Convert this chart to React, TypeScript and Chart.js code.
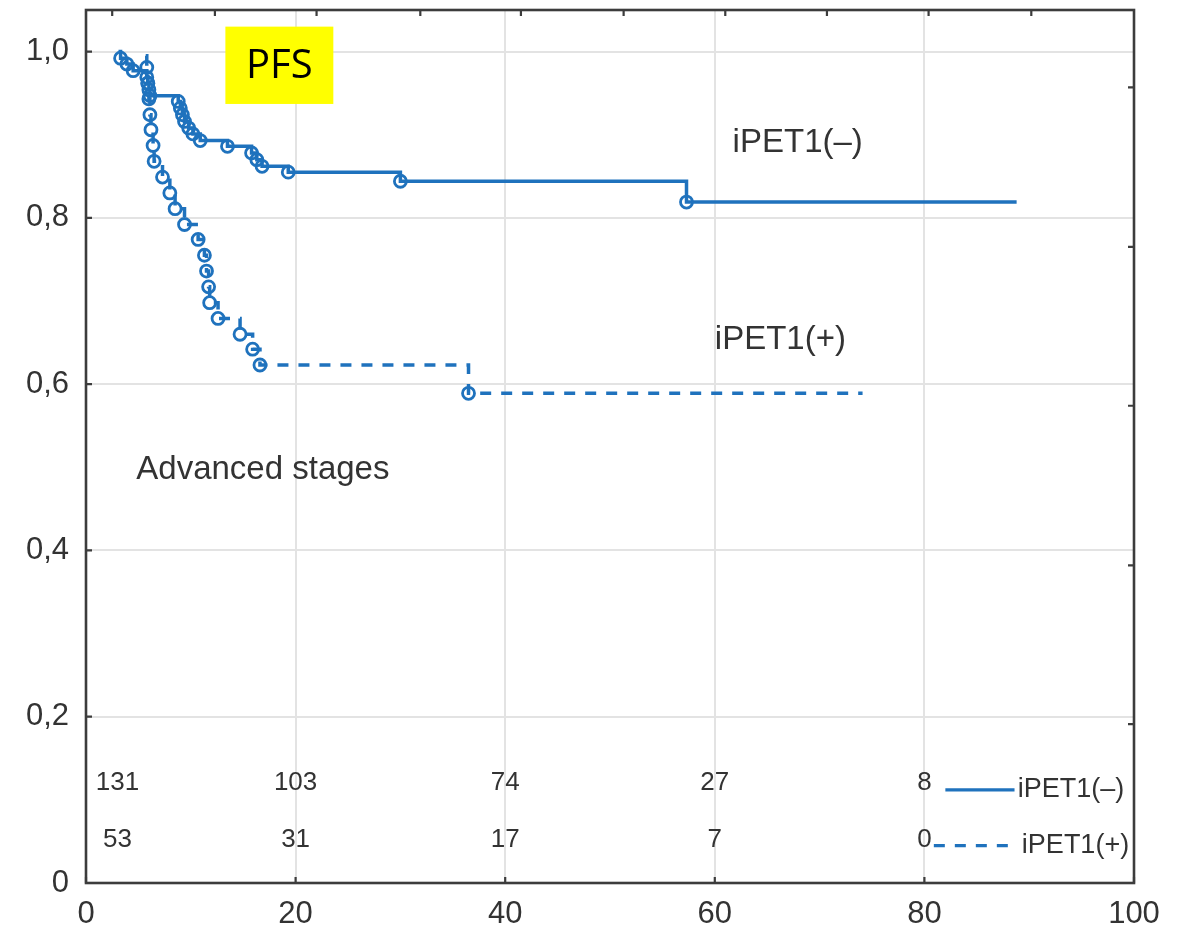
import React, { useEffect, useRef } from 'react';
import { Chart, registerables } from 'chart.js';

Chart.register(...registerables);

// ---- Data ----
const negTimes = [3.1, 3.3, 3.9, 4.5, 5.8, 5.9, 6.0, 6.1, 8.8, 9.0, 9.2, 9.4, 9.8, 10.2, 10.9, 13.5, 15.8, 16.3, 16.8, 19.3, 30.0, 57.3, 88.8];
const negSurv = [1.0, 0.992, 0.985, 0.977, 0.969, 0.962, 0.954, 0.947, 0.94, 0.932, 0.924, 0.916, 0.908, 0.901, 0.893, 0.886, 0.878, 0.87, 0.862, 0.855, 0.844, 0.819, 0.819];

const posTimes = [5.7, 5.8, 5.9, 6.0, 6.1, 6.2, 6.4, 6.5, 7.3, 8.0, 8.5, 9.4, 10.7, 11.3, 11.5, 11.7, 11.8, 12.6, 14.7, 15.9, 16.6, 36.5, 74.1];
const posSurv = [0.995, 0.981, 0.962, 0.943, 0.924, 0.906, 0.887, 0.868, 0.849, 0.83, 0.811, 0.792, 0.774, 0.755, 0.736, 0.717, 0.698, 0.679, 0.66, 0.642, 0.623, 0.589, 0.589];

const riskTimes = [3, 20, 40, 60, 80];
const riskNeg = [131, 103, 74, 27, 8];
const riskPos = [53, 31, 17, 7, 0];

const xTicks = [0, 20, 40, 60, 80, 100];
const yTicks = [0, 0.2, 0.4, 0.6, 0.8, 1.0];
const yTickLabels = ['0', '0,2', '0,4', '0,6', '0,8', '1,0'];
const topTicks = [2.5, 12.3, 22.0, 31.9, 41.5, 51.3, 61.0, 70.7, 80.4, 90.2];
const rightTicks = [0.191, 0.382, 0.574, 0.765, 0.957];

const BLUE = '#1f72bd';
const TEXT = '#333333';
const FONT = "'Liberation Sans', Arial, sans-serif";

const overlayPlugin = {
  id: 'overlay',
  afterDraw(chart: any) {
    const { ctx, chartArea: ca, scales } = chart;
    const x = scales.x;
    const y = scales.y;
    ctx.save();
    // frame
    ctx.strokeStyle = '#3c3c3c';
    ctx.lineWidth = 2.6;
    ctx.strokeRect(ca.left, ca.top, ca.right - ca.left, ca.bottom - ca.top);
    // inward ticks
    ctx.lineWidth = 2.2;
    ctx.beginPath();
    yTicks.forEach((v) => {
      const py = y.getPixelForValue(v);
      ctx.moveTo(ca.left, py);
      ctx.lineTo(ca.left + 6, py);
    });
    xTicks.forEach((v) => {
      const px = x.getPixelForValue(v);
      ctx.moveTo(px, ca.bottom);
      ctx.lineTo(px, ca.bottom - 6);
    });
    topTicks.forEach((v) => {
      const px = x.getPixelForValue(v);
      ctx.moveTo(px, ca.top);
      ctx.lineTo(px, ca.top + 6);
    });
    rightTicks.forEach((v) => {
      const py = y.getPixelForValue(v);
      ctx.moveTo(ca.right, py);
      ctx.lineTo(ca.right - 6, py);
    });
    ctx.stroke();

    // PFS box
    const bx1 = x.getPixelForValue(13.3);
    const bx2 = x.getPixelForValue(23.6);
    const by1 = y.getPixelForValue(1.03);
    const by2 = y.getPixelForValue(0.937);
    ctx.fillStyle = '#ffff00';
    ctx.fillRect(bx1, by1, bx2 - bx1, by2 - by1);
    ctx.fillStyle = '#000';
    ctx.font = "40px 'Open Sans', 'Noto Sans', sans-serif";
    ctx.textAlign = 'center';
    ctx.textBaseline = 'middle';
    ctx.fillText('PFS', (bx1 + bx2) / 2, (by1 + by2) / 2 + 1);

    // annotations
    ctx.fillStyle = TEXT;
    ctx.font = `33px ${FONT}`;
    ctx.textAlign = 'left';
    ctx.fillText('iPET1(–)', x.getPixelForValue(61.7), y.getPixelForValue(0.89));
    ctx.fillText('iPET1(+)', x.getPixelForValue(60.0), y.getPixelForValue(0.653));
    ctx.fillText('Advanced stages', x.getPixelForValue(4.8), y.getPixelForValue(0.497));

    // numbers at risk
    ctx.font = `26px ${FONT}`;
    ctx.textAlign = 'center';
    riskTimes.forEach((t, i) => {
      const px = x.getPixelForValue(t);
      ctx.fillText(String(riskNeg[i]), px, y.getPixelForValue(0.12));
      ctx.fillText(String(riskPos[i]), px, y.getPixelForValue(0.052));
    });

    // legend
    ctx.strokeStyle = BLUE;
    ctx.lineWidth = 3.4;
    const ly1 = y.getPixelForValue(0.112);
    ctx.beginPath();
    ctx.moveTo(x.getPixelForValue(82.0), ly1);
    ctx.lineTo(x.getPixelForValue(88.6), ly1);
    ctx.stroke();
    const ly2 = y.getPixelForValue(0.045);
    ctx.setLineDash([11, 10]);
    ctx.beginPath();
    ctx.moveTo(x.getPixelForValue(80.9), ly2);
    ctx.lineTo(x.getPixelForValue(88.6), ly2);
    ctx.stroke();
    ctx.setLineDash([]);
    ctx.fillStyle = TEXT;
    ctx.textAlign = 'left';
    ctx.font = `27px ${FONT}`;
    ctx.fillText('iPET1(–)', x.getPixelForValue(88.9), ly1);
    ctx.fillText('iPET1(+)', x.getPixelForValue(89.3), ly2);
    ctx.restore();
  },
};

function pointRadius(n: number) {
  return (c: any) => (c.dataIndex === 0 || c.dataIndex === n - 1 ? 0 : 6);
}

export default function App() {
  const ref = useRef<HTMLCanvasElement>(null);
  useEffect(() => {
    document.body.style.margin = '0';
    const canvas = ref.current!;
    const chart = new Chart(canvas, {
      type: 'line',
      data: {
        datasets: [
          {
            label: 'iPET1(–)',
            data: negTimes.map((t, i) => ({ x: t, y: negSurv[i] })),
            stepped: true,
            borderColor: BLUE,
            borderWidth: 3.5,
            pointRadius: pointRadius(negTimes.length),
            pointStyle: 'circle',
            pointBorderWidth: 2.8,
            pointBorderColor: BLUE,
            pointBackgroundColor: 'rgba(255,255,255,0)',
            fill: false,
          },
          {
            label: 'iPET1(+)',
            data: posTimes.map((t, i) => ({ x: t, y: posSurv[i] })),
            stepped: true,
            borderColor: BLUE,
            borderWidth: 3.5,
            borderDash: [11, 10],
            pointRadius: pointRadius(posTimes.length),
            pointStyle: 'circle',
            pointBorderWidth: 2.8,
            pointBorderColor: BLUE,
            pointBackgroundColor: 'rgba(255,255,255,0)',
            fill: false,
          },
        ],
      },
      options: {
        responsive: false,
        animation: false,
        layout: { padding: { top: 10, right: 52, left: 0, bottom: 0 } },
        plugins: { legend: { display: false }, tooltip: { enabled: false } },
        scales: {
          x: {
            type: 'linear',
            min: 0,
            max: 100,
            afterBuildTicks: (s: any) => {
              s.ticks = xTicks.map((v) => ({ value: v }));
            },
            afterFit: (s: any) => {
              s.height = 44;
              s.paddingLeft = 0;
              s.paddingRight = 0;
            },
            grid: { color: '#e3e3e3', lineWidth: 2, drawTicks: false },
            border: { display: false },
            ticks: {
              padding: 13,
              color: TEXT,
              font: { family: FONT, size: 31 },
              maxRotation: 0,
              autoSkip: false,
            },
          },
          y: {
            type: 'linear',
            min: 0,
            max: 1.05,
            afterBuildTicks: (s: any) => {
              s.ticks = yTicks.map((v) => ({ value: v }));
            },
            afterFit: (s: any) => {
              s.width = 86;
              s.paddingTop = 0;
              s.paddingBottom = 0;
            },
            grid: { color: '#e3e3e3', lineWidth: 2, drawTicks: false },
            border: { display: false },
            ticks: {
              padding: 17,
              color: TEXT,
              font: { family: FONT, size: 31 },
              callback: (_v: any, i: number) => yTickLabels[i],
            },
          },
        },
      },
      plugins: [overlayPlugin],
    });
    return () => chart.destroy();
  }, []);
  return <canvas ref={ref} width={1186} height={927} style={{ display: 'block' }} />;
}
